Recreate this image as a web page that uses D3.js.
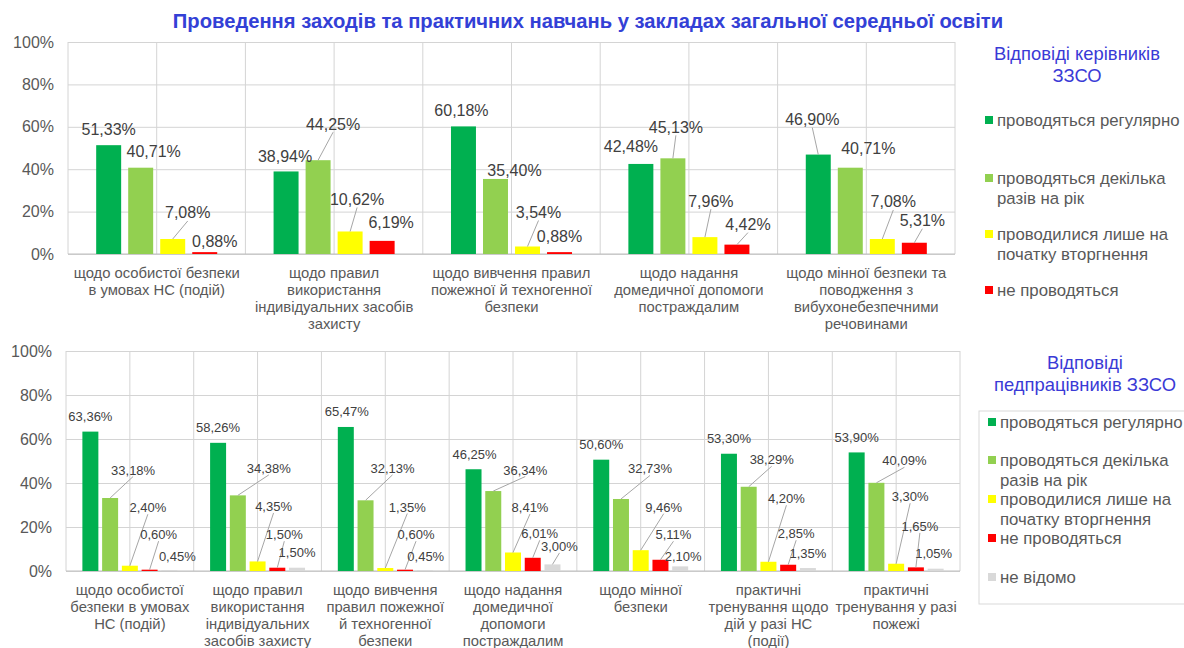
<!DOCTYPE html>
<html>
<head>
<meta charset="utf-8">
<script src="https://cdn.jsdelivr.net/npm/d3@7"></script>
<style>
  body { margin: 0; background: #fff; }
  svg { display: block; font-family: Arial, "Liberation Sans", sans-serif; }
</style>
</head>
<body>
<div id="chart"></div>
<script>
// chart data
var titleText = "Проведення заходів та практичних навчань у закладах загальної середньої освіти";

var seriesNames = ["проводяться регулярно", "проводяться декілька разів на рік",
    "проводилися лише на початку вторгнення", "не проводяться", "не відомо"];
var seriesColors = ["#00b050", "#92d050", "#ffff00", "#ff0000", "#d9d9d9"];

// top chart: відповіді керівників
var topCategories = [
    ["щодо особистої безпеки", "в умовах НС (подій)"],
    ["щодо правил", "використання", "індивідуальних засобів", "захисту"],
    ["щодо вивчення правил", "пожежної й техногенної", "безпеки"],
    ["щодо надання", "домедичної допомоги", "постраждалим"],
    ["щодо мінної безпеки та", "поводження з", "вибухонебезпечними", "речовинами"]
];
var topRegular = [51.33, 38.94, 60.18, 42.48, 46.90];
var topSeveral = [40.71, 44.25, 35.40, 45.13, 40.71];
var topStart = [7.08, 10.62, 3.54, 7.96, 7.08];
var topNot = [0.88, 6.19, 0.88, 4.42, 5.31];

// bottom chart: відповіді педпрацівників
var botCategories = [
    ["щодо особистої", "безпеки в умовах", "НС (подій)"],
    ["щодо правил", "використання", "індивідуальних", "засобів захисту"],
    ["щодо вивчення", "правил пожежної", "й техногенної", "безпеки"],
    ["щодо надання", "домедичної", "допомоги", "постраждалим"],
    ["щодо мінної", "безпеки"],
    ["практичні", "тренування щодо", "дій у разі НС", "(події)"],
    ["практичні", "тренування у разі", "пожежі"]
];
var botRegular = [63.36, 58.26, 65.47, 46.25, 50.60, 53.30, 53.90];
var botSeveral = [33.18, 34.38, 32.13, 36.34, 32.73, 38.29, 40.09];
var botStart = [2.40, 4.35, 1.35, 8.41, 9.46, 4.20, 3.30];
var botNot = [0.60, 1.50, 0.60, 6.01, 5.11, 2.85, 1.65];
var botUnknown = [0.45, 1.50, 0.45, 3.00, 2.10, 1.35, 1.05];

var yTicks = [0, 20, 40, 60, 80, 100];

// data label nudges (dx, dy from bar top), like the moved labels in Excel
var topLabelShift = [
    [[0, -16], [13, -16], [15, -26], [10, -11]],
    [[-1, -15], [15, -36], [7, -32], [9, -18]],
    [[-2, -16], [19, -8], [11, -34], [0, -16]],
    [[-10, -17], [3, -31], [6, -36], [11, -20]],
    [[-6, -35], [18, -19], [11, -37], [8, -22]]
];
var botLabelShift = [
    [[0, -15], [23, -28], [18, -58], [9, -35], [8, -14]],
    [[0, -15], [31, -27], [16, -55], [7, -33], [0, -15]],
    [[1, -15], [27, -32], [22, -61], [11, -35], [1, -14]],
    [[1, -15], [32, -21], [17, -45], [7, -24], [7, -18]],
    [[0, -15], [29, -30], [23, -43], [13, -25], [3, -10]],
    [[0, -15], [23, -27], [18, -63], [8, -31], [0, -15]],
    [[0, -15], [28, -22], [14, -67], [4, -41], [-2, -15]]
];

var fmt = function(v) { return d3.format(".2f")(v).replace(".", ",") + "%"; };

var svg = d3.select("#chart").append("svg")
    .attr("width", 1184)
    .attr("height", 648);

svg.append("text")
    .attr("x", 588)
    .attr("y", 21)
    .attr("text-anchor", "middle")
    .attr("dominant-baseline", "central")
    .attr("font-size", 20.2)
    .attr("font-weight", "bold")
    .attr("fill", "#3340d6")
    .text(titleText);

function drawChart(cfg) {
    var g = svg.append("g");
    var cats = d3.range(cfg.categories.length);
    var ser = d3.range(cfg.values.length);

    var x0 = d3.scaleBand().domain(cats).range([cfg.left, cfg.right]).padding(0);
    var x1 = d3.scaleBand().domain(ser).range([0, x0.bandwidth()])
        .paddingInner(cfg.padIn).paddingOuter(cfg.padOut);
    var y = d3.scaleLinear().domain([0, 100]).range([cfg.bottom, cfg.top]);

    // horizontal grid + y labels
    var yAxis = g.append("g")
        .attr("transform", "translate(" + cfg.left + ",0)")
        .call(d3.axisLeft(y).tickValues(yTicks).tickSize(-(cfg.right - cfg.left))
            .tickPadding(14).tickFormat(function(d) { return d + "%"; }));
    yAxis.select(".domain").remove();
    yAxis.selectAll("line").attr("stroke", "#d4d4d4");
    yAxis.selectAll("text").attr("font-size", 16).attr("fill", "#595959")
        .attr("font-family", "Arial, 'Liberation Sans', sans-serif");

    // vertical grid: category edges and centres
    var vx = [];
    cats.forEach(function(c) {
        vx.push(x0(c));
        vx.push(x0(c) + x0.bandwidth() / 2);
    });
    vx.push(cfg.right);
    g.selectAll("line.vgrid").data(vx).enter().append("line")
        .attr("class", "vgrid")
        .attr("x1", function(d) { return d; })
        .attr("x2", function(d) { return d; })
        .attr("y1", cfg.top)
        .attr("y2", cfg.bottom)
        .attr("stroke", "#d4d4d4");

    g.append("line")
        .attr("x1", cfg.left).attr("x2", cfg.right)
        .attr("y1", cfg.bottom).attr("y2", cfg.bottom)
        .attr("stroke", "#bfbfbf");

    // bars
    var cells = [];
    cats.forEach(function(c) {
        ser.forEach(function(s) {
            cells.push({ c: c, s: s, v: cfg.values[s][c], shift: cfg.shift[c][s] });
        });
    });

    g.selectAll("rect.bar").data(cells).enter().append("rect")
        .attr("class", "bar")
        .attr("x", function(d) { return x0(d.c) + x1(d.s); })
        .attr("y", function(d) { return y(d.v); })
        .attr("width", x1.bandwidth())
        .attr("height", function(d) { return cfg.bottom - y(d.v); })
        .attr("fill", function(d) { return seriesColors[d.s]; });

    // leader lines for labels pushed away from their bar
    var half = cfg.labelSize / 2;
    var led = cells.filter(function(d) {
        return -d.shift[1] - half > 11;
    });
    g.selectAll("line.leader").data(led).enter().append("line")
        .attr("class", "leader")
        .attr("x1", function(d) { return x0(d.c) + x1(d.s) + x1.bandwidth() / 2; })
        .attr("y1", function(d) { return y(d.v); })
        .attr("x2", function(d) { return x0(d.c) + x1(d.s) + x1.bandwidth() / 2 + d.shift[0]; })
        .attr("y2", function(d) { return y(d.v) + d.shift[1] + half; })
        .attr("stroke", "#a6a6a6");

    g.selectAll("text.val").data(cells).enter().append("text")
        .attr("class", "val")
        .attr("x", function(d) { return x0(d.c) + x1(d.s) + x1.bandwidth() / 2 + d.shift[0]; })
        .attr("y", function(d) { return y(d.v) + d.shift[1]; })
        .attr("text-anchor", "middle")
        .attr("dominant-baseline", "central")
        .attr("font-size", cfg.labelSize)
        .attr("fill", "#404040")
        .text(function(d) { return fmt(d.v); });

    // category labels
    var cl = g.selectAll("text.cat").data(cats).enter().append("text")
        .attr("class", "cat")
        .attr("text-anchor", "middle")
        .attr("font-size", 14.8)
        .attr("fill", "#595959");
    cl.each(function(c) {
        var t = d3.select(this);
        cfg.categories[c].forEach(function(line, i) {
            t.append("tspan")
                .attr("x", x0(c) + x0.bandwidth() / 2)
                .attr("y", cfg.bottom + cfg.catOffset + i * 17)
                .text(line);
        });
    });
}

drawChart({
    categories: topCategories,
    values: [topRegular, topSeveral, topStart, topNot],
    shift: topLabelShift,
    left: 68, right: 955, top: 42, bottom: 254,
    padIn: 0.22, padOut: 0.88,
    labelSize: 16, catOffset: 24
});

drawChart({
    categories: botCategories,
    values: [botRegular, botSeveral, botStart, botNot, botUnknown],
    shift: botLabelShift,
    left: 66, right: 960, top: 351, bottom: 571,
    padIn: 0.19, padOut: 0.83,
    labelSize: 13, catOffset: 24
});

// legends
function drawLegend(titleLines, titleX, titleY, itemY, count, markX, boxed) {
    var lg = svg.append("g");
    if (boxed) {
        lg.append("rect")
            .attr("x", boxed[0]).attr("y", boxed[1])
            .attr("width", boxed[2]).attr("height", boxed[3])
            .attr("fill", "none").attr("stroke", "#d9d9d9");
    }
    titleLines.forEach(function(line, i) {
        lg.append("text")
            .attr("x", titleX)
            .attr("y", titleY + i * 22)
            .attr("text-anchor", "middle")
            .attr("dominant-baseline", "central")
            .attr("font-size", 18.4)
            .attr("fill", "#3a3ad6")
            .text(line);
    });
    var items = [
        ["проводяться регулярно"],
        ["проводяться декілька", "разів на рік"],
        ["проводилися лише на", "початку вторгнення"],
        ["не проводяться"],
        ["не відомо"]
    ];
    for (var i = 0; i < count; i++) {
        lg.append("rect")
            .attr("x", markX)
            .attr("y", itemY[i] - 4)
            .attr("width", 8).attr("height", 8)
            .attr("fill", seriesColors[i]);
        var t = lg.append("text")
            .attr("font-size", 16.8)
            .attr("fill", "#595959")
            .attr("dominant-baseline", "central");
        items[i].forEach(function(line, k) {
            t.append("tspan")
                .attr("x", markX + 12)
                .attr("y", itemY[i] + k * 20)
                .text(line);
        });
    }
}

drawLegend(["Відповіді керівників", "ЗЗСО"], 1077, 53, [120, 178, 234, 290], 4, 985, null);
drawLegend(["Відповіді", "педпрацівників ЗЗСО"], 1085, 362, [422, 460, 499, 538, 577], 5, 988, [979, 411, 210, 193]);
</script>
</body>
</html>
